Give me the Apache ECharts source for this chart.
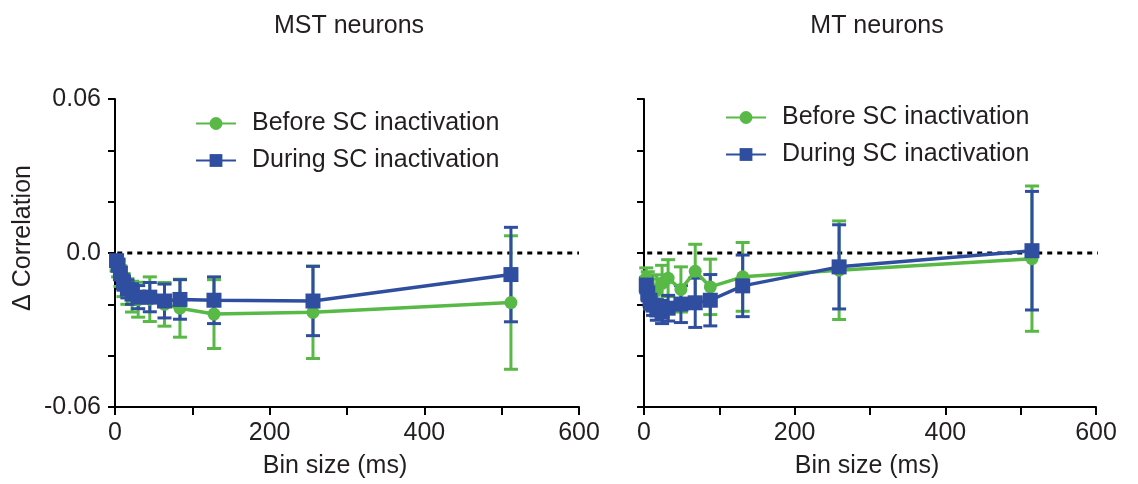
<!DOCTYPE html>
<html>
<head>
<meta charset="utf-8">
<title>SC inactivation</title>
<script src="https://cdn.jsdelivr.net/npm/echarts@6.0.0/dist/echarts.min.js"></script>
<style>
  html, body { margin: 0; padding: 0; background: #fff; }
  #chart { width: 1138px; height: 484px; }
</style>
</head>
<body>
<div id="chart"></div>
<script>
// MST panel
const mstBins = [2, 4, 7, 11, 16, 22, 30, 45, 64, 84, 128, 256, 512]
const mstBefore = [-0.0040, -0.0058, -0.0090, -0.0125, -0.0150, -0.0170, -0.0182, -0.0180, -0.0200, -0.0215, -0.0238, -0.0231, -0.0193]
const mstBeforeErr = [0.003, 0.0035, 0.004, 0.0045, 0.005, 0.006, 0.0068, 0.0087, 0.0085, 0.0113, 0.0134, 0.018, 0.026]
const mstDuring = [-0.0030, -0.0048, -0.0080, -0.0115, -0.0140, -0.0160, -0.0172, -0.0172, -0.0187, -0.0181, -0.0184, -0.0187, -0.0084]
const mstDuringErr = [0.0015, 0.002, 0.0025, 0.003, 0.0035, 0.004, 0.0045, 0.0057, 0.0066, 0.0077, 0.0091, 0.0135, 0.0184]

// MT panel
const mtBins = [3, 5, 8, 12, 17, 24, 32, 49, 68, 88, 131, 259, 515]
const mtBefore = [-0.0098, -0.0118, -0.0137, -0.0156, -0.0145, -0.0118, -0.0098, -0.0142, -0.0071, -0.0132, -0.0093, -0.0067, -0.0022]
const mtBeforeErr = [0.004, 0.0045, 0.005, 0.0055, 0.006, 0.007, 0.0072, 0.0088, 0.0105, 0.0108, 0.0134, 0.0192, 0.0283]
const mtDuring = [-0.0125, -0.0156, -0.0184, -0.0203, -0.0222, -0.0230, -0.0215, -0.0199, -0.0194, -0.0184, -0.0128, -0.0054, 0.0009]
const mtDuringErr = [0.003, 0.003, 0.0035, 0.004, 0.004, 0.0045, 0.005, 0.0072, 0.0096, 0.0100, 0.012, 0.0164, 0.0231]

const xTicks = [0, 200, 400, 600]
const yTicks = [-0.06, 0, 0.06]

const GREEN = '#58b947'
const BLUE = '#2f4e9f'
const INK = '#231f20'
const FONT = 'Liberation Sans, Arial, Helvetica, sans-serif'
const FS = 25

function points(bins, vals) {
  return bins.map((b, i) => [b, vals[i]])
}
function bars(bins, vals, errs) {
  return bins.map((b, i) => [b, vals[i] - errs[i], vals[i] + errs[i]])
}

function renderErr(params, api) {
  const x = api.value(0)
  const top = api.coord([x, api.value(2)])
  const bot = api.coord([x, api.value(1)])
  const w = 7
  const style = { stroke: api.visual('color'), lineWidth: 3 }
  return {
    type: 'group',
    children: [
      { type: 'line', shape: { x1: top[0], y1: top[1], x2: bot[0], y2: bot[1] }, style },
      { type: 'line', shape: { x1: top[0] - w, y1: top[1], x2: top[0] + w, y2: top[1] }, style },
      { type: 'line', shape: { x1: bot[0] - w, y1: bot[1], x2: bot[0] + w, y2: bot[1] }, style }
    ]
  }
}

function xAxis(gridIndex, namePad) {
  return {
    type: 'value', gridIndex, min: 0, max: 600, interval: 100,
    name: 'Bin size (ms)', nameLocation: 'middle', nameGap: 47,
    nameTextStyle: { color: INK, fontSize: FS, fontFamily: FONT, padding: namePad },
    axisLine: { onZero: false, lineStyle: { color: '#000', width: 2 } },
    axisTick: { length: 8, lineStyle: { color: '#000', width: 2 } },
    axisLabel: {
      margin: 14, color: INK, fontSize: FS, fontFamily: FONT,
      formatter: v => xTicks.includes(v) ? String(v) : ''
    },
    splitLine: { show: false }
  }
}

function yAxis(gridIndex, showLabels) {
  return {
    type: 'value', gridIndex, min: -0.06, max: 0.06, interval: 0.02,
    axisLine: { show: true, onZero: false, lineStyle: { color: '#000', width: 2 } },
    axisTick: { show: true, length: 7, lineStyle: { color: '#000', width: 2 } },
    axisLabel: {
      show: showLabels, margin: 14, color: INK, fontSize: FS, fontFamily: FONT,
      formatter: v => {
        const t = yTicks.find(k => Math.abs(k - v) < 1e-9)
        if (t === undefined) return ''
        return t === 0 ? '0.0' : t.toFixed(2)
      }
    },
    splitLine: { show: false }
  }
}

function panelSeries(idx, bins, before, beforeErr, during, duringErr, zeroSpan) {
  return [{
    name: 'zero' + idx, type: 'line', xAxisIndex: idx, yAxisIndex: idx,
    data: zeroSpan.map(x => [x, 0]), symbol: 'none', clip: false, silent: true,
    lineStyle: { color: '#000', width: 3, type: [5, 5] }, z: 1
  }, {
    name: 'errBefore' + idx, type: 'custom', xAxisIndex: idx, yAxisIndex: idx,
    renderItem: renderErr, data: bars(bins, before, beforeErr),
    itemStyle: { color: GREEN }, z: 2
  }, {
    name: 'errDuring' + idx, type: 'custom', xAxisIndex: idx, yAxisIndex: idx,
    renderItem: renderErr, data: bars(bins, during, duringErr),
    itemStyle: { color: BLUE }, z: 3
  }, {
    name: 'Before SC inactivation', type: 'line', xAxisIndex: idx, yAxisIndex: idx,
    data: points(bins, before), symbol: 'circle', symbolSize: 13,
    itemStyle: { color: GREEN }, lineStyle: { color: GREEN, width: 3.5 }, z: 4
  }, {
    name: 'During SC inactivation', type: 'line', xAxisIndex: idx, yAxisIndex: idx,
    data: points(bins, during), symbol: 'rect', symbolSize: 15,
    itemStyle: { color: BLUE }, lineStyle: { color: BLUE, width: 3.5 }, z: 5
  }]
}

const legendNames = ['Before SC inactivation', 'During SC inactivation']
function legend(left, top) {
  return {
    data: legendNames, orient: 'vertical', left, top, padding: 0, selectedMode: false,
    itemWidth: 40, itemHeight: 16, itemGap: 12,
    textStyle: { color: INK, fontSize: FS, fontFamily: FONT, lineHeight: 25, padding: [0, 0, 0, 11] }
  }
}

const chart = echarts.init(document.getElementById('chart'))
chart.setOption({
  animation: false,
  backgroundColor: '#fff',
  title: [
    { text: 'MST neurons', left: 344, top: 9, textAlign: 'center', textStyle: { color: INK, fontSize: FS, fontWeight: 'normal', fontFamily: FONT } },
    { text: 'MT neurons', left: 872, top: 9, textAlign: 'center', textStyle: { color: INK, fontSize: FS, fontWeight: 'normal', fontFamily: FONT } }
  ],
  legend: [legend(195, 111), legend(725, 105)],
  grid: [
    { left: 115, top: 99, width: 464, height: 309 },
    { left: 644, top: 99, width: 452, height: 309 }
  ],
  xAxis: [xAxis(0, [0, 24, 0, 0]), xAxis(1, [0, 6, 0, 0])],
  yAxis: [yAxis(0, true), yAxis(1, false)],
  graphic: [{
    type: 'text', x: 23, y: 238, rotation: Math.PI / 2,
    style: { text: '\u0394 Correlation', fill: INK, fontSize: FS, fontFamily: FONT, align: 'center', verticalAlign: 'middle' }
  }],
  series: [
    ...panelSeries(0, mstBins, mstBefore, mstBeforeErr, mstDuring, mstDuringErr, [-10, 600]),
    ...panelSeries(1, mtBins, mtBefore, mtBeforeErr, mtDuring, mtDuringErr, [-9, 622])
  ]
})
</script>
</body>
</html>
